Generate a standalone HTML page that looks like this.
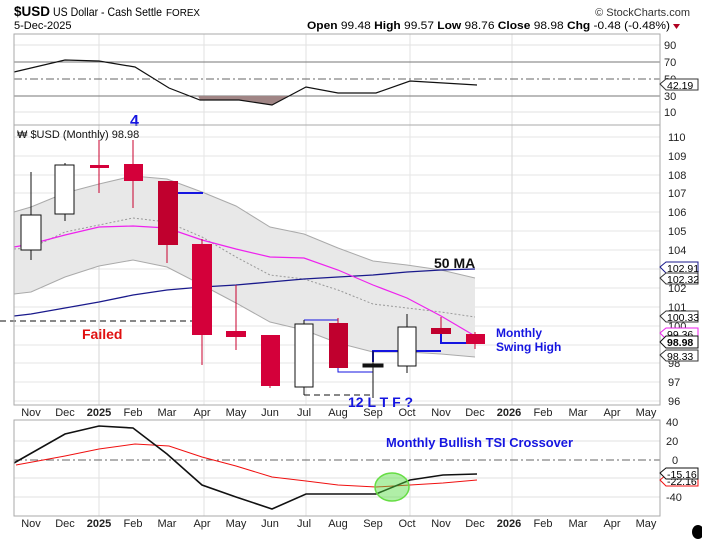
<!DOCTYPE html>
<html><head><meta charset="utf-8"><style>
body{margin:0;background:#fff;width:702px;height:539px;overflow:hidden}
svg{display:block;font-family:"Liberation Sans",sans-serif}
</style></head><body>
<svg width="702" height="539" viewBox="0 0 702 539" xmlns="http://www.w3.org/2000/svg">
<!-- header -->
<text x="14" y="16" font-size="14" font-weight="bold" textLength="36" lengthAdjust="spacingAndGlyphs">$USD</text>
<text x="53" y="16" font-size="12" textLength="109" lengthAdjust="spacingAndGlyphs">US Dollar - Cash Settle</text>
<text x="166" y="16" font-size="10" textLength="34" lengthAdjust="spacingAndGlyphs">FOREX</text>
<text x="690" y="16" font-size="11" text-anchor="end" fill="#333">© StockCharts.com</text>
<text x="14" y="29" font-size="11">5-Dec-2025</text>
<text x="307" y="29" font-size="11" textLength="363" lengthAdjust="spacingAndGlyphs"><tspan font-weight="bold">Open</tspan> 99.48 <tspan font-weight="bold">High</tspan> 99.57 <tspan font-weight="bold">Low</tspan> 98.76 <tspan font-weight="bold">Close</tspan> 98.98 <tspan font-weight="bold">Chg</tspan> -0.48 (-0.48%)</text>
<path d="M673 24 L680 24 L676.5 29 Z" fill="#b00020"/>

<!-- TOP RSI panel -->
<g stroke="#e2e2e2" stroke-width="1">
<line x1="99" y1="34" x2="99" y2="125"/><line x1="204" y1="34" x2="204" y2="125"/><line x1="306" y1="34" x2="306" y2="125"/><line x1="410" y1="34" x2="410" y2="125"/><line x1="512" y1="34" x2="512" y2="125"/>
<line x1="14" y1="45" x2="660" y2="45"/><line x1="14" y1="112" x2="660" y2="112"/>
</g>
<line x1="14" y1="62" x2="660" y2="62" stroke="#777"/>
<line x1="14" y1="96" x2="660" y2="96" stroke="#777"/>
<line x1="14" y1="79" x2="660" y2="79" stroke="#666" stroke-dasharray="8,3,2,3"/>
<path d="M198 96 L200 100 L239 100 L272 105 L288 96 Z" fill="#a08585"/>
<polyline points="14,72 65,60 99,61 135,67 169,88 200,100 239,100 272,105 306,87 338,93 376,93 410,81 477,85" fill="none" stroke="#111" stroke-width="1.2"/>
<rect x="14" y="34" width="646" height="91" fill="none" stroke="#aaa"/>
<g font-size="11" fill="#222">
<text x="664" y="49">90</text><text x="664" y="66">70</text><text x="664" y="83">50</text><text x="664" y="100">30</text><text x="664" y="116">10</text>
</g>
<path d="M660 84 L666 79 L698 79 L698 90 L666 90 Z" fill="#fff" stroke="#333"/>
<text x="667" y="89" font-size="10.5">42.19</text>
<text x="130" y="126" font-size="16" font-weight="bold" fill="#1515e0">4</text>

<!-- MAIN panel -->
<g stroke="#e6e6e6" stroke-width="1">
<line x1="14" y1="137" x2="660" y2="137"/><line x1="14" y1="156" x2="660" y2="156"/><line x1="14" y1="175" x2="660" y2="175"/><line x1="14" y1="193" x2="660" y2="193"/><line x1="14" y1="212" x2="660" y2="212"/><line x1="14" y1="231" x2="660" y2="231"/><line x1="14" y1="250" x2="660" y2="250"/><line x1="14" y1="269" x2="660" y2="269"/><line x1="14" y1="288" x2="660" y2="288"/><line x1="14" y1="307" x2="660" y2="307"/><line x1="14" y1="326" x2="660" y2="326"/><line x1="14" y1="345" x2="660" y2="345"/><line x1="14" y1="363" x2="660" y2="363"/><line x1="14" y1="382" x2="660" y2="382"/><line x1="14" y1="401" x2="660" y2="401"/>
<line x1="99" y1="125" x2="99" y2="405" stroke="#d6d6d6"/><line x1="204" y1="125" x2="204" y2="405"/><line x1="306" y1="125" x2="306" y2="405"/><line x1="410" y1="125" x2="410" y2="405"/><line x1="512" y1="125" x2="512" y2="405" stroke="#d6d6d6"/>
</g>
<path d="M14,212 L31,207 L65,193 L99,184 L133,176 L167,179 L202,192 L236,206 L270,227 L304,234 L338,248 L373,261 L407,265 L441,270 L475,278 L475,357 L441,354 L407,352 L373,352 L338,343 L304,330 L270,322 L236,303 L202,285 L167,267 L133,260 L99,266 L65,277 L31,292 L14,294 Z" fill="#e8e8e8"/>
<polyline points="14,212 31,207 65,193 99,184 133,176 167,179 202,192 236,206 270,227 304,234 338,248 373,261 407,265 441,270 475,278" fill="none" stroke="#aaa"/>
<polyline points="14,294 31,292 65,277 99,266 133,260 167,267 202,285 236,303 270,322 304,330 338,343 373,352 407,352 441,354 475,357" fill="none" stroke="#aaa"/>
<polyline points="14,249 31,248 65,232 99,225 133,218 167,222 202,237 236,257 270,275 304,279 338,290 373,304 407,308 441,312 475,317" fill="none" stroke="#999" stroke-dasharray="2,2"/>
<polyline points="14,316 31,314 65,308 99,302 133,295 167,290 202,287 236,285 270,282 304,279 338,277 373,275 407,272 441,270 475,269" fill="none" stroke="#1a1a8c" stroke-width="1.3"/>
<polyline points="14,247 31,244 65,235 99,227 133,226 167,228 202,240 236,249 270,257 304,258 338,270 373,285 407,298 441,316 475,336" fill="none" stroke="#ee22ee" stroke-width="1.2"/>
<line x1="0" y1="321" x2="200" y2="321" stroke="#111" stroke-dasharray="6,4"/>
<line x1="304" y1="395" x2="372" y2="395" stroke="#111" stroke-dasharray="6,4"/>
<line x1="168" y1="193" x2="203" y2="193" stroke="#1515e0" stroke-width="2"/>
<polyline points="304,320 338,320" fill="none" stroke="#1515e0"/>
<polyline points="338,368 338,372 373,372" fill="none" stroke="#1515e0"/>
<polyline points="373,362 373,351 441,351" fill="none" stroke="#1515e0" stroke-width="2"/>
<polyline points="441,334 441,343 484,343" fill="none" stroke="#1515e0" stroke-width="2"/>
<g stroke="#111" stroke-width="1">
<line x1="31" y1="172" x2="31" y2="260"/><rect x="21" y="215" width="20" height="35" fill="#fff"/>
<line x1="65" y1="163" x2="65" y2="221"/><rect x="55" y="165" width="19" height="49" fill="#fff"/>
<line x1="304" y1="320" x2="304" y2="395"/><rect x="295" y="324" width="18" height="63" fill="#fff"/>
<line x1="407" y1="314" x2="407" y2="373"/><rect x="398" y="327" width="18" height="39" fill="#fff"/>
<line x1="373" y1="351" x2="373" y2="398"/><rect x="363" y="364" width="20" height="3" fill="#111"/>
</g>
<g stroke="#c8002e" fill="#d4003a">
<line x1="99" y1="140" x2="99" y2="193"/><rect x="90" y="165" width="19" height="3" stroke="none"/>
<line x1="133" y1="140" x2="133" y2="208"/><rect x="124" y="164" width="19" height="17" stroke="none"/>
<line x1="167" y1="181" x2="167" y2="263"/><rect x="158" y="181" width="20" height="64" stroke="none" fill="#c0002e"/>
<line x1="202" y1="239" x2="202" y2="365"/><rect x="192" y="244" width="20" height="91" stroke="none"/>
<line x1="236" y1="285" x2="236" y2="350"/><rect x="226" y="331" width="20" height="6" stroke="none"/>
<line x1="270" y1="335" x2="270" y2="388"/><rect x="261" y="335" width="19" height="51" stroke="none"/>
<line x1="338" y1="318" x2="338" y2="368"/><rect x="329" y="323" width="19" height="45" stroke="none" fill="#c0002e"/>
<line x1="441" y1="317" x2="441" y2="334"/><rect x="431" y="328" width="20" height="6" stroke="none" fill="#c0002e"/>
<line x1="475" y1="332" x2="475" y2="349"/><rect x="466" y="334" width="19" height="10" stroke="none"/>
</g>
<rect x="14" y="125" width="646" height="280" fill="none" stroke="#aaa"/>
<text x="17" y="138" font-size="11" fill="#111">₩ $USD (Monthly) 98.98</text>
<text x="82" y="339" font-size="14" font-weight="bold" fill="#e01010">Failed</text>
<text x="348" y="407" font-size="14" font-weight="bold" fill="#1515e0">12 L T F ?</text>
<text x="434" y="268" font-size="14" font-weight="bold" fill="#111">50 MA</text>
<text x="496" y="337" font-size="12" font-weight="bold" fill="#1515e0">Monthly</text>
<text x="496" y="351" font-size="12" font-weight="bold" fill="#1515e0">Swing High</text>
<g font-size="11" fill="#222">
<text x="668" y="141">110</text><text x="668" y="160">109</text><text x="668" y="179">108</text><text x="668" y="197">107</text><text x="668" y="216">106</text><text x="668" y="235">105</text><text x="668" y="254">104</text><text x="668" y="273">103</text><text x="668" y="292">102</text><text x="668" y="311">101</text><text x="668" y="330">100</text><text x="668" y="367">98</text><text x="668" y="386">97</text><text x="668" y="405">96</text>
</g>
<g font-size="10.5">
<path d="M660 267 L666 262 L698 262 L698 273 L666 273 Z" fill="#fff" stroke="#1a1a8c"/><text x="667" y="272">102.91</text>
<path d="M660 278 L666 273 L698 273 L698 284 L666 284 Z" fill="#fff" stroke="#333"/><text x="667" y="283">102.32</text>
<path d="M660 316 L666 311 L698 311 L698 322 L666 322 Z" fill="#fff" stroke="#333"/><text x="667" y="321">100.33</text>
<path d="M660 333 L666 328 L698 328 L698 339 L666 339 Z" fill="#fff" stroke="#ee22ee"/><text x="667" y="338">99.36</text>
<path d="M660 342 L666 336 L698 336 L698 348 L666 348 Z" fill="#fff" stroke="#111"/><text x="667" y="346" font-weight="bold">98.98</text>
<path d="M660 355 L666 350 L698 350 L698 361 L666 361 Z" fill="#fff" stroke="#333"/><text x="667" y="360">98.33</text>
</g>
<g font-size="11" fill="#222" text-anchor="middle">
<text x="31" y="416">Nov</text><text x="65" y="416">Dec</text><text x="99" y="416" font-weight="bold">2025</text><text x="133" y="416">Feb</text><text x="167" y="416">Mar</text><text x="202" y="416">Apr</text><text x="236" y="416">May</text><text x="270" y="416">Jun</text><text x="304" y="416">Jul</text><text x="338" y="416">Aug</text><text x="373" y="416">Sep</text><text x="407" y="416">Oct</text><text x="441" y="416">Nov</text><text x="475" y="416">Dec</text><text x="509" y="416" font-weight="bold">2026</text><text x="543" y="416">Feb</text><text x="578" y="416">Mar</text><text x="612" y="416">Apr</text><text x="646" y="416">May</text>
</g>

<!-- BOTTOM TSI panel -->
<g stroke="#e2e2e2">
<line x1="99" y1="420" x2="99" y2="516"/><line x1="204" y1="420" x2="204" y2="516"/><line x1="306" y1="420" x2="306" y2="516"/><line x1="410" y1="420" x2="410" y2="516"/><line x1="512" y1="420" x2="512" y2="516"/>
<line x1="14" y1="441" x2="660" y2="441"/><line x1="14" y1="478" x2="660" y2="478"/><line x1="14" y1="497" x2="660" y2="497"/>
</g>
<line x1="14" y1="460" x2="660" y2="460" stroke="#666" stroke-dasharray="8,3,2,3"/>
<polyline points="16,465 65,456 99,449 135,444 169,446 202,457 236,466 272,477 306,481 338,485 376,487 410,485 443,483 477,480" fill="none" stroke="#f01010"/>
<polyline points="14,463 65,434 99,426 133,428 167,454 202,485 236,497 272,509 306,494 338,494 376,494 410,480 443,475 477,474" fill="none" stroke="#111" stroke-width="1.6"/>
<ellipse cx="392" cy="487" rx="17" ry="14" fill="rgba(80,220,60,0.45)" stroke="#66dd44" stroke-width="1.5"/>
<rect x="14" y="420" width="646" height="96" fill="none" stroke="#aaa"/>
<text x="386" y="447" font-size="13" font-weight="bold" fill="#1515e0" textLength="187" lengthAdjust="spacingAndGlyphs">Monthly Bullish TSI Crossover</text>
<g font-size="11" fill="#222">
<text x="666" y="426">40</text><text x="666" y="445">20</text><text x="672" y="464">0</text><text x="666" y="501">-40</text>
</g>
<path d="M660 480 L666 475 L698 475 L698 486 L666 486 Z" fill="#fff" stroke="#f01010"/><text x="667" y="485" font-size="10.5">-22.16</text>
<path d="M660 473 L666 468 L698 468 L698 479 L666 479 Z" fill="#fff" stroke="#111"/><text x="667" y="478" font-size="10.5">-15.16</text>
<g font-size="11" fill="#222" text-anchor="middle">
<text x="31" y="527">Nov</text><text x="65" y="527">Dec</text><text x="99" y="527" font-weight="bold">2025</text><text x="133" y="527">Feb</text><text x="167" y="527">Mar</text><text x="202" y="527">Apr</text><text x="236" y="527">May</text><text x="270" y="527">Jun</text><text x="304" y="527">Jul</text><text x="338" y="527">Aug</text><text x="373" y="527">Sep</text><text x="407" y="527">Oct</text><text x="441" y="527">Nov</text><text x="475" y="527">Dec</text><text x="509" y="527" font-weight="bold">2026</text><text x="543" y="527">Feb</text><text x="578" y="527">Mar</text><text x="612" y="527">Apr</text><text x="646" y="527">May</text>
</g>
<ellipse cx="698" cy="532" rx="6" ry="7" fill="#000"/>
</svg>
</body></html>
